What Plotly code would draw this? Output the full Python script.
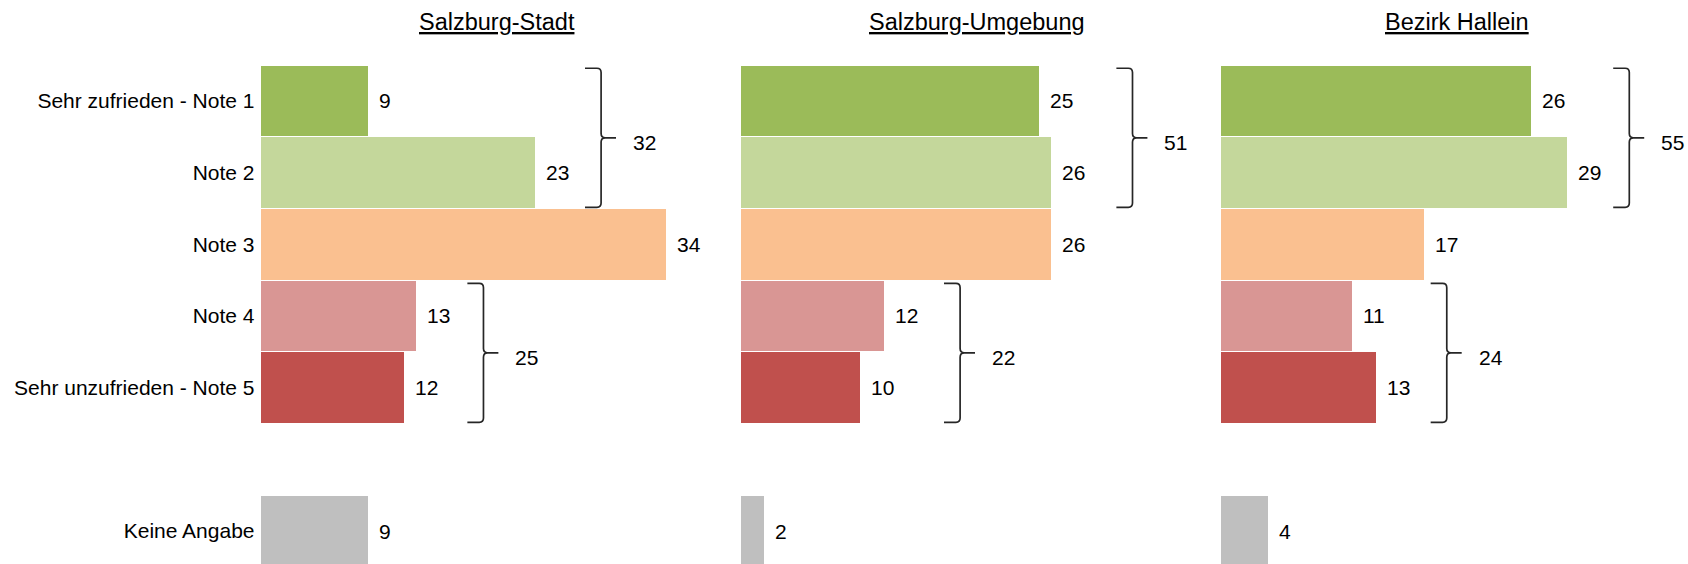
import plotly.graph_objects as go

# ---------------- data ----------------
categories = ["Sehr zufrieden - Note 1", "Note 2", "Note 3", "Note 4",
              "Sehr unzufrieden - Note 5", "Keine Angabe"]
category_rows = [0, 1, 2, 3, 4, 6]          # row slot of each category (slot 5 left empty)
regions = ["Salzburg-Stadt", "Salzburg-Umgebung", "Bezirk Hallein"]
salzburg_stadt = [9, 23, 34, 13, 12, 9]
salzburg_umgebung = [25, 26, 26, 12, 10, 2]
bezirk_hallein = [26, 29, 17, 11, 13, 4]
series = [salzburg_stadt, salzburg_umgebung, bezirk_hallein]
top_group = [0, 1]      # indices summed by upper brace
bottom_group = [3, 4]   # indices summed by lower brace

# ---------------- style ----------------
bar_colors = ["#9BBB59", "#C4D79B", "#FAC090", "#D99694", "#C0504D", "#BFBFBF"]
FONT = "Liberation Sans, Arial, sans-serif"
W, H = 1688, 564
PX_PER_UNIT = 11.93
panel_left_px = [260.5, 740.6, 1220.7]
panel_right_px = [735.0, 1215.0, 1688.0]
brace_gap = [[4.2, 4.34], [5.5, 5.05], [3.9, 4.6]]   # distance of brace from group max (units)
BRACE_W = 1.35
BRACE_TIP = 1.25
TOP_PX = 65.0
ROW_PX = 71.7
y_bottom = -0.5 + (H - TOP_PX) / ROW_PX

fig = go.Figure()
axis_names = ["x", "x2", "x3"]

for p, vals in enumerate(series):
    fig.add_trace(go.Bar(
        x=vals, y=category_rows, orientation="h",
        marker=dict(color=bar_colors, line=dict(width=0)),
        width=0.985, xaxis=axis_names[p], yaxis="y",
        hoverinfo="skip", showlegend=False,
    ))

layout = dict(
    width=W, height=H,
    margin=dict(l=0, r=0, t=TOP_PX, b=0, pad=0),
    paper_bgcolor="white", plot_bgcolor="white",
    font=dict(family=FONT, size=21, color="#000000"),
    showlegend=False,
    bargap=0,
)
for p in range(3):
    key = "xaxis" if p == 0 else f"xaxis{p+1}"
    d0 = panel_left_px[p] / W
    d1 = panel_right_px[p] / W
    rng = (panel_right_px[p] - panel_left_px[p]) / PX_PER_UNIT
    layout[key] = dict(domain=[d0, d1], range=[0, rng], showgrid=False,
                       zeroline=False, showticklabels=False, showline=False,
                       ticks="", anchor="y", fixedrange=True)
layout["yaxis"] = dict(
    range=[y_bottom, -0.5], tickmode="array", tickvals=category_rows,
    ticktext=categories, showgrid=False, zeroline=False, showline=False,
    ticks="", ticklabelstandoff=5, anchor="x",
    tickfont=dict(family=FONT, size=21, color="#000000"), fixedrange=True,
)
fig.update_layout(**layout)

annotations = []
shapes = []


def brace_path(xl, y0, y1):
    xw = xl + BRACE_W
    ym = (y0 + y1) / 2
    ry = 0.06      # vertical corner size (rows)
    rx = 0.35      # horizontal corner size (units)
    return (f"M {xl},{y0} L {xw - rx},{y0} Q {xw},{y0} {xw},{y0 + ry} "
            f"L {xw},{ym - ry} Q {xw},{ym} {xw + rx},{ym} "
            f"L {xw + BRACE_TIP},{ym} M {xw + rx},{ym} "
            f"Q {xw},{ym} {xw},{ym + ry} L {xw},{y1 - ry} "
            f"Q {xw},{y1} {xw - rx},{y1} L {xl},{y1}")


for p, vals in enumerate(series):
    xa = axis_names[p]
    # title
    annotations.append(dict(
        text=f"<u>{regions[p]}</u>", xref="paper", yref="paper",
        x=(panel_left_px[p] + 236) / W, y=1 + (TOP_PX - 21.7) / (H - TOP_PX),
        xanchor="center", yanchor="middle", showarrow=False,
        font=dict(family=FONT, size=23.5, color="#000000"),
    ))
    # value labels
    for v, row in zip(vals, category_rows):
        annotations.append(dict(
            text=str(v), xref=xa, yref="y", x=v, y=row,
            xanchor="left", yanchor="middle", xshift=9, showarrow=False,
            font=dict(family=FONT, size=21, color="#000000"),
        ))
    # braces
    for g, grp in enumerate([top_group, bottom_group]):
        gmax = max(vals[i] for i in grp)
        total = sum(vals[i] for i in grp)
        xl = gmax + brace_gap[p][g]
        y0 = category_rows[grp[0]] - 0.5 + 0.045
        y1 = category_rows[grp[-1]] + 0.5 - 0.015
        shapes.append(dict(type="path", xref=xa, yref="y",
                           path=brace_path(xl, y0, y1),
                           line=dict(color="#262626", width=1.7)))
        annotations.append(dict(
            text=str(total), xref=xa, yref="y",
            x=xl + BRACE_W + BRACE_TIP, y=(y0 + y1) / 2,
            xanchor="left", yanchor="middle", xshift=15, yshift=-5,
            showarrow=False, font=dict(family=FONT, size=21, color="#000000"),
        ))

fig.update_layout(annotations=annotations, shapes=shapes)
fig.write_html(
    "out.html",
    config={"displayModeBar": False, "staticPlot": True},
    post_script="document.body.style.margin='0';document.body.style.overflow='hidden';",
)
